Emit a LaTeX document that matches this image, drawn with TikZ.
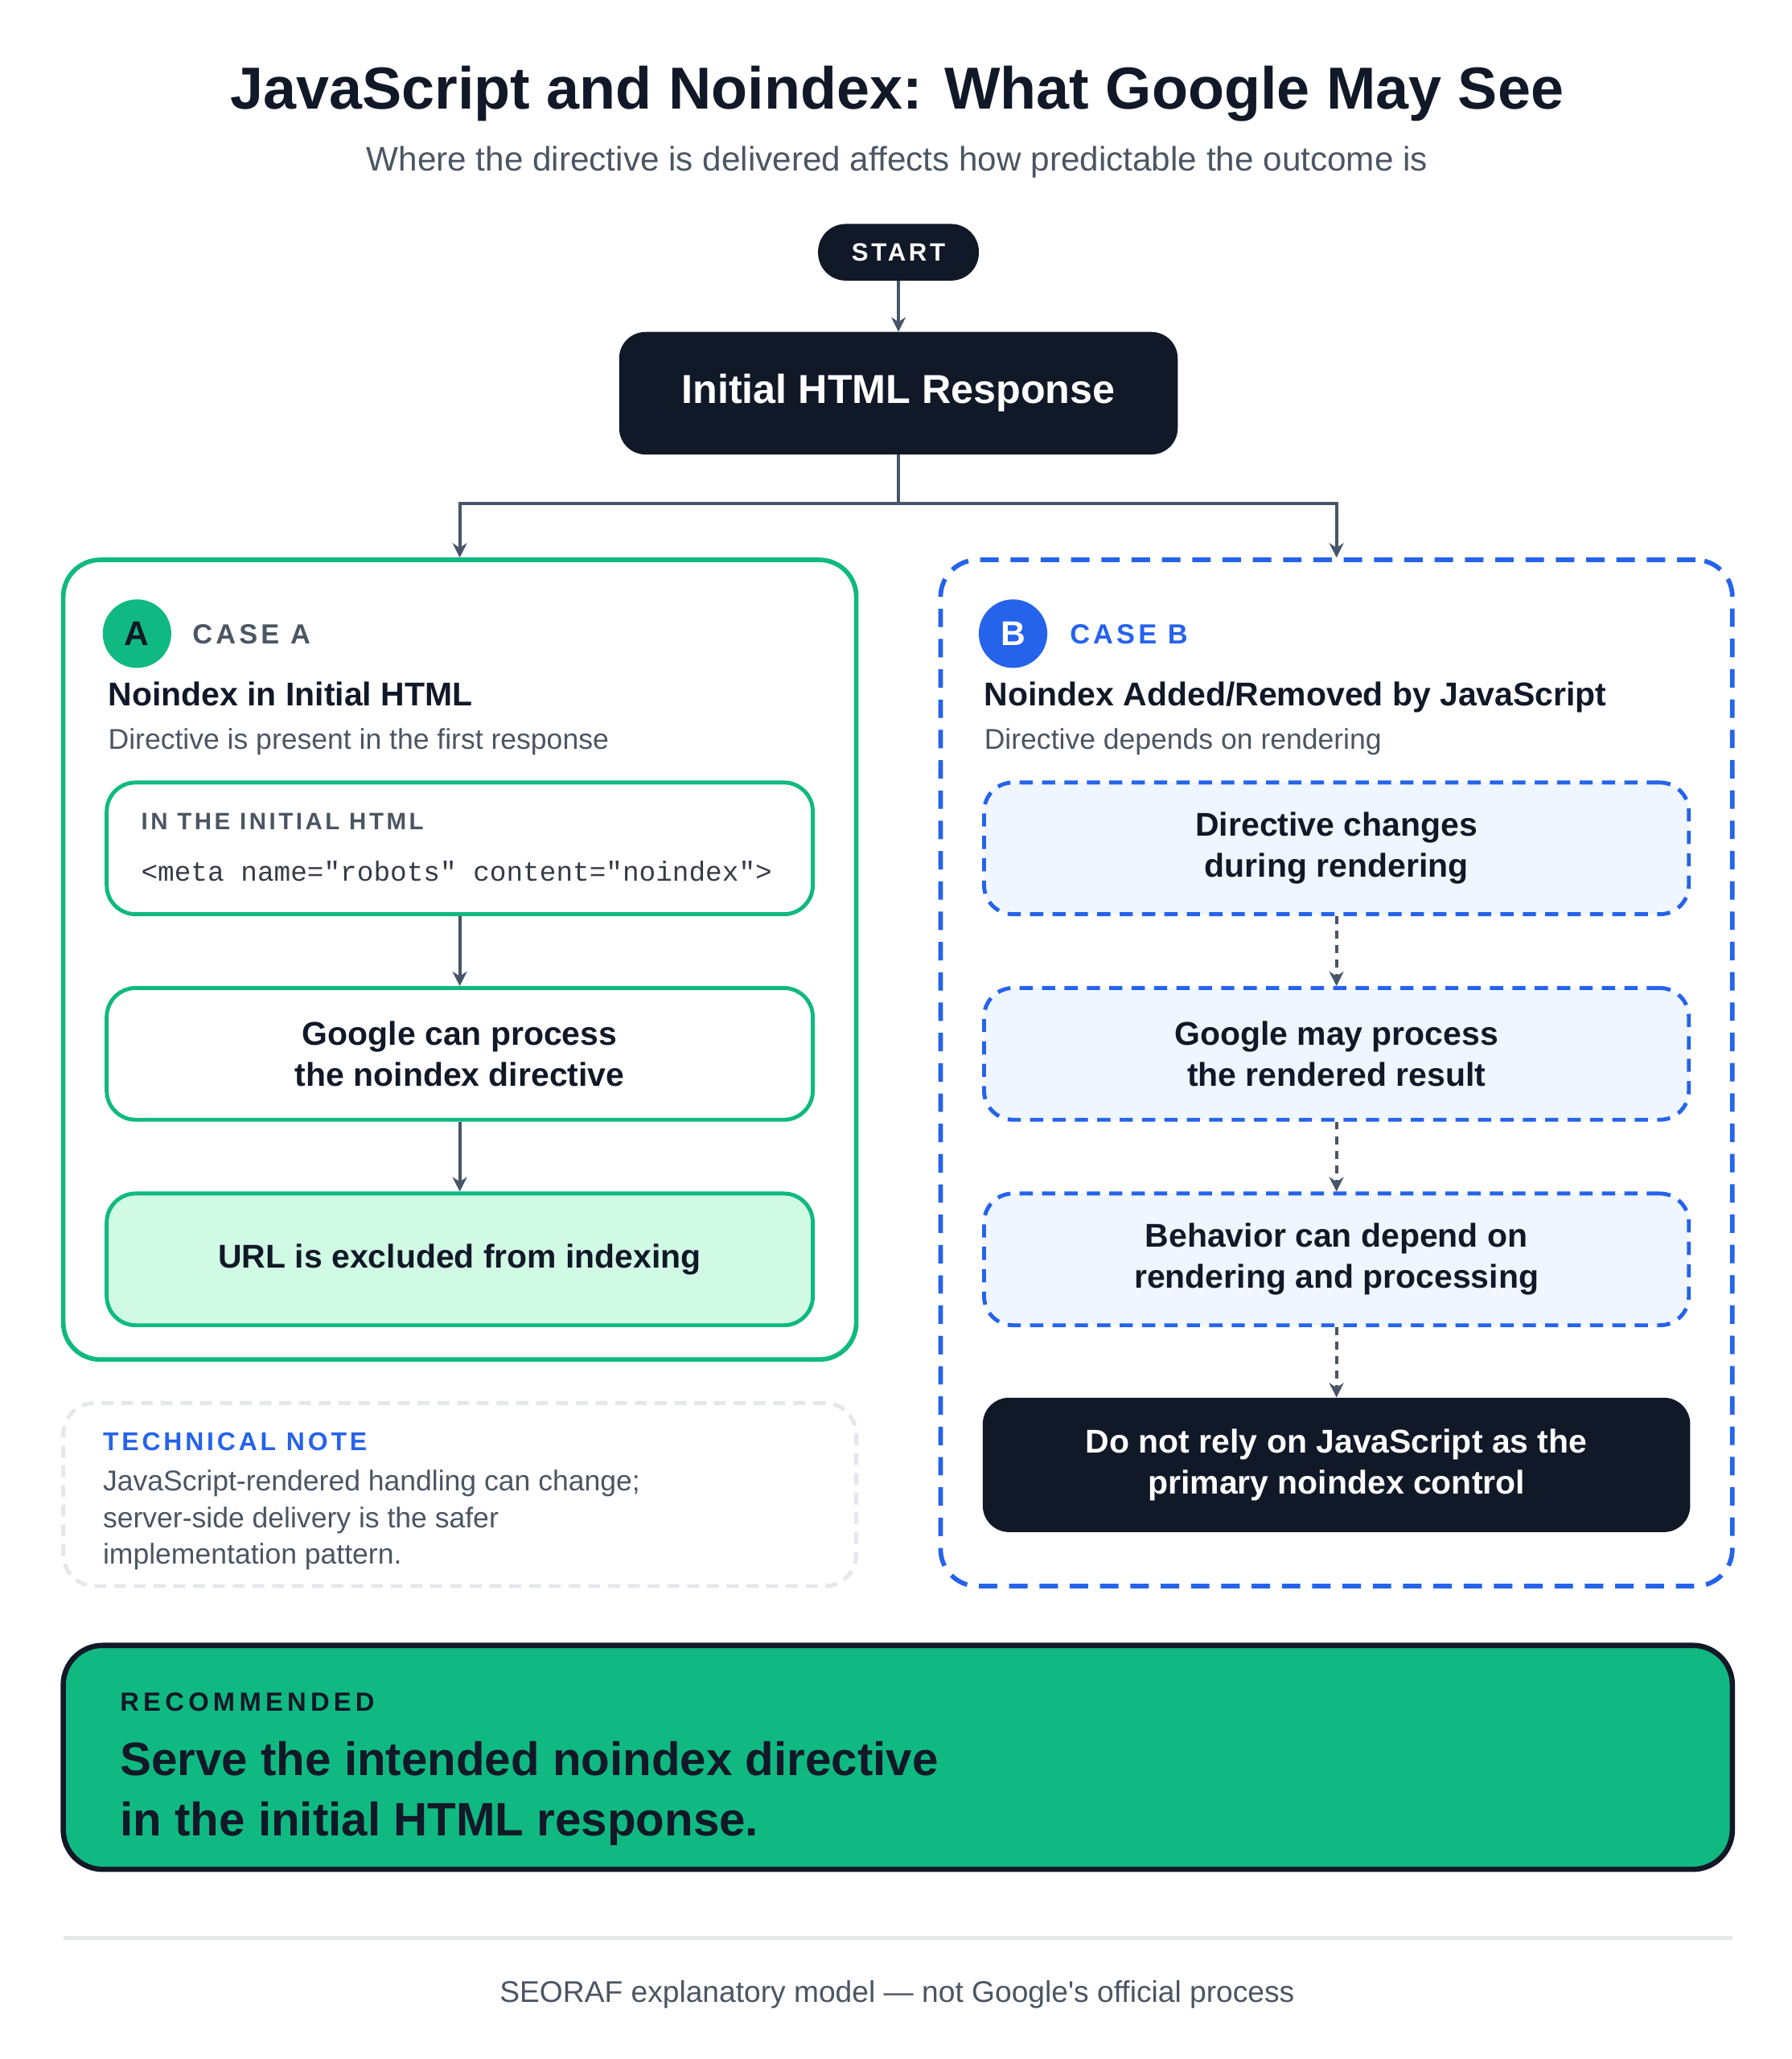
\documentclass[tikz,border=0pt]{standalone}
\usepackage{fontspec}
\setmainfont{Liberation Sans}
\newfontfamily\spaced[LetterSpace=12]{Liberation Sans}
\newfontfamily\widespaced[LetterSpace=16]{Liberation Sans}
\newfontfamily\codefont{Liberation Mono}
\usetikzlibrary{arrows.meta}
\definecolor{ink}{HTML}{111827}
\definecolor{graytxt}{HTML}{4B5563}
\definecolor{arrowc}{HTML}{475569}
\definecolor{grn}{HTML}{10B981}
\definecolor{lgrn}{HTML}{D1FAE5}
\definecolor{blu}{HTML}{2563EB}
\definecolor{lblu}{HTML}{EFF6FF}
\definecolor{notec}{HTML}{E5E7EB}
\tikzset{
  arr/.style={draw=arrowc, line width=2.5pt, -{Stealth[length=11pt,width=11pt]}},
  darr/.style={arr, dash pattern=on 6pt off 5pt},
  darkbox/.style={draw=none, fill=ink, rounded corners=20pt, text=white, font=\bfseries, align=center, inner sep=0pt},
  casea/.style={draw=grn, line width=3.5pt, rounded corners=28pt, minimum width=602pt, minimum height=607pt, inner sep=0pt},
  caseb/.style={draw=blu, line width=3.5pt, rounded corners=28pt, dash pattern=on 14pt off 9pt, minimum width=601pt, minimum height=779pt, inner sep=0pt},
  abox/.style={draw=grn, line width=3pt, fill=white, rounded corners=22pt, minimum width=536pt, minimum height=100pt, align=center, inner sep=0pt, font=\fontsize{25}{31}\selectfont\bfseries, text=ink},
  bbox/.style={draw=blu, line width=3pt, fill=lblu, rounded corners=22pt, dash pattern=on 10pt off 7pt, minimum width=535pt, minimum height=100pt, align=center, inner sep=0pt, font=\fontsize{25}{31}\selectfont\bfseries, text=ink},
  lbl/.style={anchor=base west, inner sep=0pt},
  badge/.style={circle, minimum size=52pt, inner sep=0pt, font=\fontsize{26}{26}\selectfont\bfseries}
}
\begin{document}
\begin{tikzpicture}[x=1pt,y=-1pt]
\useasboundingbox[fill=white] (0,0) rectangle (1360,1563);

% title
\node[anchor=base, inner sep=0pt, text=ink, font=\fontsize{45}{48}\selectfont\bfseries] (title) at (681,83) {JavaScript and Noindex: What Google May See};
\node[anchor=base, inner sep=0pt, text=graytxt, font=\fontsize{25.8}{30}\selectfont] (subtitle) at (681,130) {Where the directive is delivered affects how predictable the outcome is};

% start and initial
\node[darkbox, rounded corners=21pt, minimum width=122pt, minimum height=43pt, font=\fontsize{19}{20}\selectfont\bfseries\spaced] (start) at (682,191.5) {START};
\node[darkbox, minimum width=424pt, minimum height=93pt, font=\fontsize{30.7}{34}\selectfont\bfseries] (init) at (682,298.5) {Initial HTML Response};
\draw[arr] (start) -- (init);

% case boxes
\node[casea] (caseA) at (349,728.5) {};
\node[caseb] (caseB) at (1014.5,814.5) {};
\coordinate (split) at (682,382);
\draw[draw=arrowc, line width=2.5pt] (init.south) -- (split);
\draw[arr] (split) -| (caseA.north);
\draw[arr] (split) -| (caseB.north);

% case A header
\node[badge, fill=grn, text=ink] (badgeA) at (104,481) {A};
\node[lbl, text=graytxt, font=\fontsize{21}{24}\selectfont\bfseries\spaced] (caseAlbl) at (146,488.5) {CASE A};
\node[lbl, text=ink, font=\fontsize{25}{28}\selectfont\bfseries] (caseAtitle) at (82,536) {Noindex in Initial HTML};
\node[lbl, text=graytxt, font=\fontsize{21.7}{24}\selectfont] (caseAsub) at (82,569) {Directive is present in the first response};

% case A boxes
\node[abox] (a1) at (349,644) {};
\node[lbl, text=graytxt, font=\fontsize{18}{20}\selectfont\bfseries\spaced] (a1lbl) at (107,629.5) {IN THE INITIAL HTML};
\node[lbl, text=ink!85, font=\fontsize{21}{22}\selectfont\codefont] (a1code) at (107,669) {<meta name="robots" content="noindex">};
\node[abox] (a2) at (349,800) {Google can process\\the noindex directive};
\node[abox, fill=lgrn] (a3) at (349,956) {URL is excluded from indexing};
\draw[arr] (a1) -- (a2);
\draw[arr] (a2) -- (a3);

% case B header
\node[badge, fill=blu, text=white] (badgeB) at (769,481) {B};
\node[lbl, text=blu, font=\fontsize{21}{24}\selectfont\bfseries\spaced] (caseBlbl) at (812,488.5) {CASE B};
\node[lbl, text=ink, font=\fontsize{25}{28}\selectfont\bfseries] (caseBtitle) at (747,536) {Noindex Added/Removed by JavaScript};
\node[lbl, text=graytxt, font=\fontsize{21.7}{24}\selectfont] (caseBsub) at (747,569) {Directive depends on rendering};

% case B boxes
\node[bbox] (b1) at (1014.5,644) {Directive changes\\during rendering};
\node[bbox] (b2) at (1014.5,800) {Google may process\\the rendered result};
\node[bbox] (b3) at (1014.5,956) {Behavior can depend on\\rendering and processing};
\node[darkbox, minimum width=537pt, minimum height=102pt, font=\fontsize{25}{31}\selectfont\bfseries] (b4) at (1014.5,1112) {Do not rely on JavaScript as the\\primary noindex control};
\draw[darr] (b1) -- (b2);
\draw[darr] (b2) -- (b3);
\draw[darr] (b3) -- (b4);

% technical note
\node[draw=notec, line width=3pt, dash pattern=on 9pt off 6pt, rounded corners=24pt, minimum width=602pt, minimum height=139pt, inner sep=0pt] (note) at (349,1134.5) {};
\node[lbl, text=blu, font=\fontsize{19.5}{22}\selectfont\bfseries\spaced] (notelbl) at (78,1101) {TECHNICAL NOTE};
\node[anchor=north west, inner sep=0pt, align=left, text=graytxt, font=\fontsize{21.7}{28}\selectfont] (notetxt) at (78,1115.5) {JavaScript-rendered handling can change;\\server-side delivery is the safer\\implementation pattern.};

% recommended
\node[draw=ink, fill=grn, line width=4pt, rounded corners=30pt, minimum width=1267pt, minimum height=170pt, inner sep=0pt] (rec) at (681.5,1334) {};
\node[lbl, text=ink, font=\fontsize{20}{22}\selectfont\bfseries\widespaced] (reclbl) at (91,1299) {RECOMMENDED};
\node[anchor=north west, inner sep=0pt, align=left, text=ink, font=\fontsize{35.6}{46}\selectfont\bfseries] (rectxt) at (91,1321.5) {Serve the intended noindex directive\\in the initial HTML response.};

% footer
\coordinate (sepL) at (48,1471);
\coordinate (sepR) at (1315,1471);
\draw[notec, line width=3pt] (sepL) -- (sepR);
\node[anchor=base, inner sep=0pt, text=graytxt, font=\fontsize{22.7}{26}\selectfont] (footer) at (681,1520) {SEORAF explanatory model — not Google\textquotesingle s official process};
\end{tikzpicture}
\end{document}
